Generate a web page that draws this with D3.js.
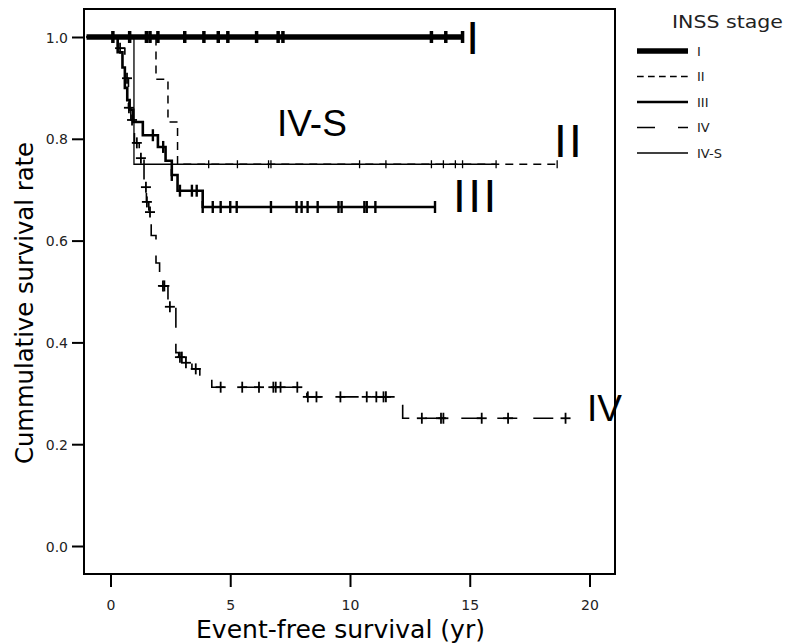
<!DOCTYPE html>
<html><head><meta charset="utf-8">
<script src="https://cdn.jsdelivr.net/npm/d3@7"></script>
<style>body{margin:0;background:#fff}svg{display:block}</style>
</head><body>
<svg id="chart" width="786" height="643"></svg>
<script>
// ---------- data ----------
const stages = ["I", "II", "III", "IV", "IV-S"];
// Kaplan-Meier steps: [time (yr), cumulative survival]
const stepsI   = [[-1,1],[14.7,1]];
const stepsII  = [[-1,1],[1.9,0.917],[2.4,0.833],[2.8,0.75],[18.65,0.75]];
const stepsIII = [[-1,1],[0.3,0.97],[0.5,0.94],[0.6,0.9],[0.7,0.876],[0.8,0.857],[0.95,0.833],[1.35,0.807],[1.98,0.784],[2.3,0.757],[2.56,0.729],[2.8,0.698],[3.85,0.666],[13.55,0.666]];
const stepsIV  = [[-1,1],[0.3,0.978],[0.6,0.919],[0.75,0.861],[0.85,0.837],[1.0,0.792],[1.2,0.762],[1.4,0.705],[1.5,0.676],[1.6,0.656],[1.7,0.61],[1.9,0.556],[2.05,0.53],[2.15,0.511],[2.4,0.47],[2.73,0.38],[2.85,0.371],[3.1,0.36],[3.4,0.348],[3.73,0.336],[4.23,0.312],[8.2,0.293],[12.2,0.251],[19.0,0.251]];
const stepsIVS = [[-1,1],[0.98,0.75],[16.1,0.75]];
// censored times (yr)
const censorI   = [0.1,0.8,1.5,1.65,1.98,3.1,3.9,4.5,4.9,6.1,7.0,7.2,13.4,14.0,14.7];
const censorII  = [4.1,5.3,6.6,6.7,10.4,11.5,13.4,13.9,14.4,14.7,18.65];
const censorIII = [1.77,2.2,2.56,2.9,3.4,3.6,3.85,4.27,4.6,5.0,5.27,6.7,7.77,7.98,8.23,8.65,9.52,9.65,10.6,10.7,11.06,13.55];
const censorIV  = [0.4,0.69,0.77,0.9,1.1,1.27,1.48,1.52,1.65,2.19,2.25,2.48,2.9,2.98,3.15,3.56,4.6,5.5,6.2,6.8,6.9,7.1,7.8,8.24,8.6,9.6,10.7,11.1,11.4,11.5,13.0,13.8,13.9,15.5,16.6,19.0];
const censorIVS = [16.1];
const xTicks = [0, 5, 10, 15, 20];
const yTicks = [0.0, 0.2, 0.4, 0.6, 0.8, 1.0];
const xTitle = "Event-free survival (yr)";
const yTitle = "Cummulative survival rate";
const legendTitle = "INSS stage";

// ---------- styles ----------
const styles = {
  "I":    {w: 5.5, dash: null,     legDash: null,      tickW: 3.5, tickH: 12, cross: false},
  "II":   {w: 1.5, dash: "8,6",    legDash: "6.7,4.3", tickW: 1.3, tickH: 8,  cross: false},
  "III":  {w: 2.6, dash: null,     legDash: null,      tickW: 2.4, tickH: 12, cross: false},
  "IV":   {w: 1.6, dash: "20,16",  legDash: "18,23",   tickW: 1.8, tickH: 11, cross: true},
  "IV-S": {w: 1.3, dash: null,     legDash: null,      tickW: 1.3, tickH: 8,  cross: false}
};
const series = [
  {name: "IV",   steps: stepsIV,   censor: censorIV},
  {name: "II",   steps: stepsII,   censor: censorII},
  {name: "IV-S", steps: stepsIVS,  censor: censorIVS},
  {name: "III",  steps: stepsIII,  censor: censorIII},
  {name: "I",    steps: stepsI,    censor: censorI}
];

const svg = d3.select("#chart");
const L = 84, R = 615, T = 9, B = 574;
const x = d3.scaleLinear().domain([-1.106, 21.065]).range([L, R]);
const y = d3.scaleLinear().domain([-0.055, 1.055]).range([B, T]);

function survAt(steps, t) {
  let s = steps[0][1];
  for (const p of steps) { if (p[0] <= t + 1e-9) s = p[1]; }
  return s;
}

// box
svg.append("rect").attr("x", L).attr("y", T).attr("width", R - L).attr("height", B - T)
  .attr("fill", "none").attr("stroke", "#000").attr("stroke-width", 2);

// y axis
const yAxis = svg.append("g").attr("transform", `translate(${L},0)`)
  .call(d3.axisLeft(y).tickValues(yTicks).tickFormat(d3.format(".1f")).tickSize(12).tickPadding(4));
yAxis.select(".domain").remove();
yAxis.selectAll("line").attr("stroke", "#000").attr("stroke-width", 2);
yAxis.selectAll("text").attr("font-family", "DejaVu Sans").attr("font-size", 14)
  .attr("fill", "#222").attr("x", -16).attr("dy", "0.36em");

// x axis
const xAxis = svg.append("g").attr("transform", `translate(0,${B + 1})`)
  .call(d3.axisBottom(x).tickValues(xTicks).tickSize(12).tickPadding(4));
xAxis.select(".domain").remove();
xAxis.selectAll("line").attr("stroke", "#000").attr("stroke-width", 2);
xAxis.selectAll("text").attr("font-family", "DejaVu Sans").attr("font-size", 14)
  .attr("fill", "#222").attr("y", 35).attr("dy", 0);

// axis titles
svg.append("text").attr("x", 340.5).attr("y", 638).attr("text-anchor", "middle")
  .attr("font-family", "DejaVu Sans").attr("font-size", 24)
  .attr("textLength", 289).attr("lengthAdjust", "spacingAndGlyphs").text(xTitle);
svg.append("text").attr("transform", "translate(33,303) rotate(-90)").attr("text-anchor", "middle")
  .attr("font-family", "DejaVu Sans").attr("font-size", 24)
  .attr("textLength", 322).attr("lengthAdjust", "spacingAndGlyphs").text(yTitle);

// curves
const line = d3.line().x(d => x(d[0])).y(d => y(d[1])).curve(d3.curveStepAfter);
series.forEach(s => {
  const st = styles[s.name];
  const g = svg.append("g");
  g.append("path").attr("d", line(s.steps)).attr("fill", "none").attr("stroke", "#000")
    .attr("stroke-width", st.w).attr("stroke-dasharray", st.dash);
  s.censor.forEach(t => {
    const cx = x(t), cy = y(survAt(s.steps, t));
    g.append("line").attr("x1", cx).attr("x2", cx).attr("y1", cy - st.tickH / 2).attr("y2", cy + st.tickH / 2)
      .attr("stroke", "#000").attr("stroke-width", st.tickW);
    if (st.cross) {
      g.append("line").attr("x1", cx - 5).attr("x2", cx + 5).attr("y1", cy).attr("y2", cy)
        .attr("stroke", "#000").attr("stroke-width", st.tickW);
    }
  });
});

// curve labels (positioned in data units)
const curveLabels = [
  {text: "I",    t: 14.85, s: 0.967, size: 46, ls: 0},
  {text: "II",   t: 18.52, s: 0.764, size: 46, ls: 2.2},
  {text: "III",  t: 14.3,  s: 0.656, size: 46, ls: 2.5},
  {text: "IV",   t: 19.9,  s: 0.246, size: 37, ls: 0},
  {text: "IV-S", t: 6.95,  s: 0.806, size: 37, ls: 0}
];
curveLabels.forEach(c => {
  svg.append("text").attr("x", x(c.t)).attr("y", y(c.s))
    .attr("font-family", "Liberation Sans").attr("font-size", c.size)
    .attr("letter-spacing", c.ls).attr("fill", "#000").text(c.text);
});

// legend
svg.append("text").attr("x", 672).attr("y", 28).attr("font-family", "DejaVu Sans")
  .attr("font-size", 18).attr("fill", "#222").attr("textLength", 111)
  .attr("lengthAdjust", "spacingAndGlyphs").text(legendTitle);
const legY = d3.scalePoint().domain(stages).range([51, 153]);
stages.forEach(n => {
  const st = styles[n];
  const yy = legY(n);
  svg.append("line").attr("x1", 637).attr("x2", 688).attr("y1", yy).attr("y2", yy)
    .attr("stroke", "#000").attr("stroke-width", st.w).attr("stroke-dasharray", st.legDash);
  svg.append("text").attr("x", 697).attr("y", yy).attr("dy", "0.36em")
    .attr("font-family", "DejaVu Sans").attr("font-size", 13).attr("fill", "#222").text(n);
});
</script>
</body></html>
